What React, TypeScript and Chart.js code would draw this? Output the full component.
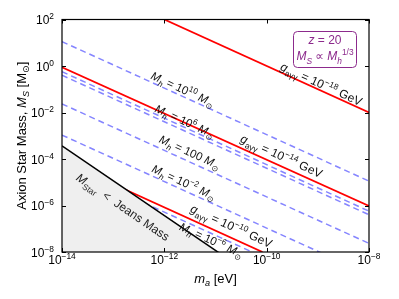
import React, { useEffect, useRef } from "react";
import { Chart, registerables } from "chart.js";
Chart.register(...registerables);

const X_MIN = 1e-14;
const X_MAX = 1e-8;
const Y_MIN = 1e-8;
const Y_MAX = 1e2;
const xTickExps = [-14, -12, -10, -8];
const yTickExps = [2, 0, -2, -4, -6, -8];

// Jeans-mass boundary (black line, shaded below)
const jeansM = [1e-14, 1e-10];
const jeansMS = [3.7e-4, 3.7e-10];

// coupling lines g_aγγ (red)
const couplingExp = ["−18", "−14", "−10"];
const couplingM = [
  [1e-12, 1e-8],
  [1e-14, 1e-8],
  [1e-14, 8.3e-11],
];
const couplingMS = [
  [1e2, 1e-2],
  [0.88, 9.5e-7],
  [8.3e-5, 1e-8],
];
const couplingLabelM = [1.17e-9, 1.95e-10, 2.04e-11];
const couplingLabelMS = [0.17, 1.35e-4, 1.32e-7];

// halo-mass lines M_h (dashed blue)
const haloM = [1e-14, 1e-8];
const haloMS = [
  [11.2, 1.12e-5],
  [0.57, 5.7e-7],
  [0.4, 4.0e-7],
  [2.34e-2, 2.34e-8],
  [1.07e-3, 1.07e-9],
  [5.2e-5, 5.2e-11],
];
// labels: [base text, superscript], line index, position
const haloLabelText = [["10", "10"], ["10", "6"], ["100", ""], ["10", "−2"], ["10", "−6"]];
const haloLabelLine = [0, 1, 3, 4, 5];
const haloLabelM = [2.29e-12, 2.5e-12, 3.16e-12, 2.4e-12, 8.3e-12];
const haloLabelMS = [0.102, 4.3e-3, 2.0e-4, 1.02e-5, 3.3e-8];

const jeansLabelM = 1.55e-13;
const jeansLabelMS = 8.7e-7;

const FAMILY = "'Liberation Sans', 'DejaVu Sans', Arial, sans-serif";
const PURPLE = "#8c2a8c";

type Run = [string, string?];

function runFont(size: number, flags: string) {
  const small = flags.includes("b") || flags.includes("p");
  const sz = small ? size * 0.7 : size;
  return `${flags.includes("i") ? "italic " : ""}${sz}px ${FAMILY}`;
}

function drawRich(
  ctx: CanvasRenderingContext2D,
  runs: Run[],
  x: number,
  y: number,
  size: number,
  angle: number,
  color: string,
  align: "center" | "left" | "right" = "center"
) {
  ctx.save();
  ctx.translate(x, y);
  ctx.rotate(angle);
  ctx.fillStyle = color;
  ctx.textBaseline = "alphabetic";
  ctx.textAlign = "left";
  const widths = runs.map(([t, f = ""]) => {
    ctx.font = runFont(size, f);
    return ctx.measureText(t).width;
  });
  const total = widths.reduce((a, b) => a + b, 0);
  let cx = align === "center" ? -total / 2 : align === "right" ? -total : 0;
  runs.forEach(([t, f = ""], i) => {
    ctx.font = runFont(size, f);
    const dy = f.includes("b") ? size * 0.28 : f.includes("p") ? -size * 0.42 : 0;
    ctx.fillText(t, cx, dy + size * 0.35);
    cx += widths[i];
  });
  ctx.restore();
}

const decorPlugin = {
  id: "decor",
  afterDraw(chart: any) {
    const ctx: CanvasRenderingContext2D = chart.ctx;
    const xs = chart.scales.x;
    const ys = chart.scales.y;
    const { left, right, top, bottom } = chart.chartArea;
    const angleOf = (m: number[], s: number[]) => {
      const x0 = xs.getPixelForValue(m[0]);
      const x1 = xs.getPixelForValue(m[1]);
      const y0 = ys.getPixelForValue(s[0]);
      const y1 = ys.getPixelForValue(s[1]);
      return Math.atan2(y1 - y0, x1 - x0);
    };

    // line labels
    couplingExp.forEach((e, i) => {
      const a = angleOf(couplingM[i], couplingMS[i]);
      drawRich(
        ctx,
        [["g", "i"], ["aγγ", "b"], [" = 10"], [e, "p"], [" GeV"]],
        xs.getPixelForValue(couplingLabelM[i]),
        ys.getPixelForValue(couplingLabelMS[i]),
        12,
        a,
        "#111"
      );
    });
    haloLabelText.forEach((t, i) => {
      const li = haloLabelLine[i];
      const a = angleOf(haloM, haloMS[li]);
      const runs: Run[] = [["M", "i"], ["h", "ib"], [" = " + t[0]]];
      if (t[1]) runs.push([t[1], "p"]);
      runs.push([" M", "i"]);
      runs.push(["⊙", "b"]);
      drawRich(
        ctx,
        runs,
        xs.getPixelForValue(haloLabelM[i]),
        ys.getPixelForValue(haloLabelMS[i]),
        11.5,
        a,
        "#111"
      );
    });
    drawRich(
      ctx,
      [["M", "i"], ["Star", "b"], ["  <  Jeans Mass"]],
      xs.getPixelForValue(jeansLabelM),
      ys.getPixelForValue(jeansLabelMS),
      12,
      angleOf(jeansM, jeansMS),
      "#222"
    );

    // frame
    ctx.save();
    ctx.strokeStyle = "#000";
    ctx.lineWidth = 1.2;
    ctx.strokeRect(left, top, right - left, bottom - top);
    ctx.lineWidth = 1;
    ctx.beginPath();
    xTickExps.forEach((e) => {
      const px = Math.round(xs.getPixelForValue(Math.pow(10, e))) + 0.5;
      ctx.moveTo(px, bottom);
      ctx.lineTo(px, bottom - 4);
      ctx.moveTo(px, top);
      ctx.lineTo(px, top + 4);
    });
    yTickExps.forEach((e) => {
      const py = Math.round(ys.getPixelForValue(Math.pow(10, e))) + 0.5;
      ctx.moveTo(left, py);
      ctx.lineTo(left + 4, py);
      ctx.moveTo(right, py);
      ctx.lineTo(right - 4, py);
    });
    ctx.stroke();
    ctx.restore();

    // tick labels
    xTickExps.forEach((e) => {
      const px = xs.getPixelForValue(Math.pow(10, e));
      drawRich(ctx, [["10"], ["−" + Math.abs(e), "p"]], px, bottom + 8, 12, 0, "#000");
    });
    yTickExps.forEach((e) => {
      const py = ys.getPixelForValue(Math.pow(10, e));
      const s = e < 0 ? "−" + Math.abs(e) : String(e);
      drawRich(ctx, [["10"], [s, "p"]], left - 8, py + 0.5, 12, 0, "#000", "right");
    });

    // axis titles
    drawRich(ctx, [["m", "i"], ["a", "ib"], [" [eV]"]], (left + right) / 2, bottom + 26, 13, 0, "#000");
    drawRich(
      ctx,
      [["Axion Star Mass, "], ["M", "i"], ["S", "ib"], [" [M"], ["⊙", "b"], ["]"]],
      21,
      (top + bottom) / 2,
      13,
      -Math.PI / 2,
      "#000"
    );

    // annotation box
    ctx.save();
    const bx = right - 76;
    const by = top + 11.5;
    const bw = 63;
    const bh = 36;
    ctx.strokeStyle = PURPLE;
    ctx.lineWidth = 1;
    ctx.beginPath();
    (ctx as any).roundRect(bx + 0.5, by + 0.5, bw, bh, 4);
    ctx.stroke();
    ctx.restore();
    drawRich(ctx, [["z", "i"], [" = 20"]], bx + bw / 2 + 0.5, by + 9, 12, 0, PURPLE);
    drawRich(
      ctx,
      [["M", "i"], ["S", "ib"], [" ∝ "], ["M", "i"], ["h", "ib"], ["1/3", "p"]],
      bx + bw / 2 + 0.5,
      by + 25,
      12,
      0,
      PURPLE
    );
  },
};

export default function App() {
  const ref = useRef<HTMLCanvasElement | null>(null);
  useEffect(() => {
    if (!ref.current) return;
    const datasets: any[] = [];
    datasets.push({
      data: jeansM.map((m, i) => ({ x: m, y: jeansMS[i] })),
      borderColor: "#000",
      borderWidth: 1.5,
      backgroundColor: "#efefef",
      fill: "start",
      pointRadius: 0,
    });
    couplingM.forEach((ms, k) => {
      datasets.push({
        data: ms.map((m, i) => ({ x: m, y: couplingMS[k][i] })),
        borderColor: "#ff0000",
        borderWidth: 1.8,
        fill: false,
        pointRadius: 0,
      });
    });
    haloMS.forEach((vals) => {
      datasets.push({
        data: haloM.map((m, i) => ({ x: m, y: vals[i] })),
        borderColor: "#8585ff",
        borderWidth: 1.5,
        borderDash: [6, 4],
        fill: false,
        pointRadius: 0,
      });
    });
    const chart = new Chart(ref.current, {
      type: "line",
      data: { datasets },
      options: {
        animation: false,
        responsive: false,
        layout: { padding: { left: 62, right: 30, top: 19.5, bottom: 47 } },
        scales: {
          x: { type: "logarithmic", min: X_MIN, max: X_MAX, display: false },
          y: { type: "logarithmic", min: Y_MIN, max: Y_MAX, display: false },
        },
        plugins: {
          legend: { display: false },
          tooltip: { enabled: false },
          filler: { drawTime: "beforeDatasetDraw" },
        } as any,
      },
      plugins: [decorPlugin],
    });
    return () => chart.destroy();
  }, []);
  return (
    <div style={{ position: "fixed", left: 0, top: 0, width: 399, height: 299, background: "#fff" }}>
      <canvas ref={ref} width={399} height={299} style={{ display: "block", width: 399, height: 299 }} />
    </div>
  );
}
